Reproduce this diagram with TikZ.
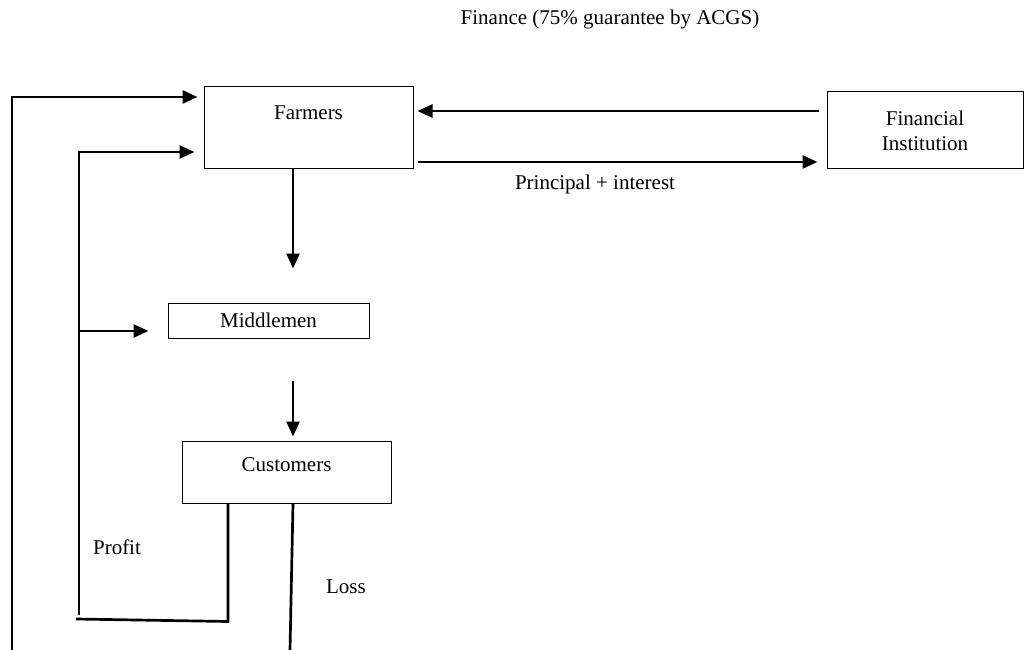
\documentclass[tikz,border=0pt]{standalone}
\usepackage{fontspec}
\setmainfont{Liberation Serif}
\usetikzlibrary{arrows.meta,calc}
\tikzset{
  box/.style={draw,line width=1pt,inner sep=0pt},
  flow/.style={line width=2.7pt,-{Triangle[length=15pt,width=13pt]}},
  bar/.style={line width=2.7pt},
}
\begin{document}
\begin{tikzpicture}[x=1pt,y=-1pt,font=\fontsize{21}{25}\selectfont]
    \useasboundingbox (0,0) rectangle (1026,650);
    \node[box,minimum width=209pt,minimum height=82pt] (farmers) at (308.5,128) {};
    \node (farmerstxt) at (308.5,113) {Farmers};
    \node[box,minimum width=196pt,minimum height=77pt,align=center] (fi) at (925,130.5) {Financial\\Institution};
    \node[box,minimum width=201pt,minimum height=35pt] (middlemen) at (268.5,320.5) {Middlemen};
    \node[box,minimum width=209pt,minimum height=62pt] (customers) at (286.5,472) {};
    \node (customerstxt) at (286.5,465) {Customers};
    \node (finance) at (610,19) {Finance (75\% guarantee by ACGS)};
    \node (principal) at (595,184) {Principal + interest};
    \node (profit) at (117,547) {Profit};
    \node (loss) at (346,587) {Loss};
    \draw[flow] ($(fi.west)+(-8,-19.5)$) -- ($(farmers.east)+(4,-17)$);
    \draw[flow] ($(farmers.east)+(4,34)$) -- ($(fi.west)+(-9,31.5)$);
    \draw[flow] ($(farmers.south)+(-15.5,0)$) -- ++(0,99);
    \draw[flow] ($(customers.north)+(6.5,-60)$) -- ($(customers.north)+(6.5,-4)$);
    \draw[bar] ($(customers.south)+(-58.5,0)$) -- ++(0,118) -- (76,619);
    \draw[flow] (79,615) |- ($(farmers.west)+(-9,24)$);
    \draw[flow] (79,331) -- ($(middlemen.west)+(-19,10.5)$);
    \draw[flow] (12,650) |- ($(farmers.west)+(-6,-31)$);
    \draw[bar] ($(customers.south)+(6.5,0)$) -- (290,650);
\end{tikzpicture}
\end{document}
